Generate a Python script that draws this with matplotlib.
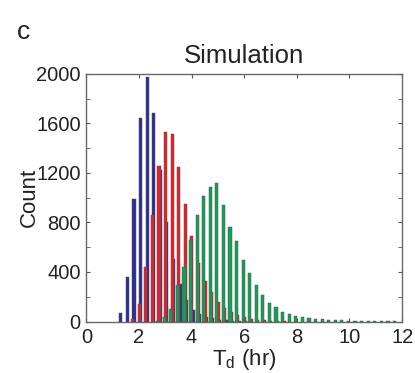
import numpy as np
import matplotlib
matplotlib.use("Agg")
import matplotlib.pyplot as plt
from matplotlib.ticker import MultipleLocator

# histogram counts, bin width 0.25 hr, each list starts at its own first bin
bin_width = 0.25
blue_start = 1.25
blue_counts = [66, 362, 987, 1642, 1978, 1687, 1220, 800, 505, 305, 170, 95, 58, 35,
               25, 15, 10, 6, 4, 2]
red_start = 1.75
red_counts = [20, 139, 438, 860, 1256, 1534, 1515, 1251, 950, 690, 470, 330, 240, 160,
              110, 75, 50, 35, 22, 15, 10, 6, 4, 2]
green_start = 2.75
green_counts = [8, 40, 105, 295, 438, 660, 857, 1015, 1090, 1115, 940, 765, 652, 496,
                388, 294, 213, 151, 116, 80, 60, 46, 39, 31, 23, 17, 14, 11, 9, 8,
                6, 5, 4, 4, 3, 2, 2]

x_ticks = [0, 2, 4, 6, 8, 10, 12]
y_ticks = [0, 400, 800, 1200, 1600, 2000]

plt.rcParams["font.family"] = ["Liberation Sans", "DejaVu Sans"]
txt = "#222222"

fig = plt.figure(figsize=(4.15, 3.73), dpi=100)
ax = fig.add_axes([0.208, 0.138, 0.761, 0.664])

series = [
    (blue_start, blue_counts, "#2d2f95", 0.06),
    (red_start, red_counts, "#e8202a", 0.01),
    (green_start, green_counts, "#12a055", -0.04),
]
for start, counts, color, off in series:
    x = start + bin_width * np.arange(len(counts)) + off
    ax.bar(x, counts, width=0.12, color=color, edgecolor="#555555", linewidth=0.35)

ax.set_xlim(0, 12)
ax.set_ylim(0, 2000)
ax.set_xticks(x_ticks)
ax.set_yticks(y_ticks)
ax.yaxis.set_minor_locator(MultipleLocator(200))
ax.tick_params(which="both", direction="in", length=3, top=True, right=True,
               color="#555555", labelsize=14.5, labelcolor=txt)
ax.tick_params(axis="x", pad=5)
ax.tick_params(axis="y", pad=4)
for s in ax.spines.values():
    s.set_color("#666666")
    s.set_linewidth(1.0)

ax.set_title("Simulation", fontsize=18.5, color=txt, pad=8)
ax.set_ylabel("Count", fontsize=16, color=txt)
ax.yaxis.set_label_coords(-0.148, 0.5)
ax.set_xlabel(r"T$_\mathregular{d}$ (hr)", fontsize=16, color=txt, labelpad=0)

fig.text(0.04, 0.915, "c", fontsize=19, color=txt, ha="left", va="center")

fig.savefig("out.png", dpi=100)
